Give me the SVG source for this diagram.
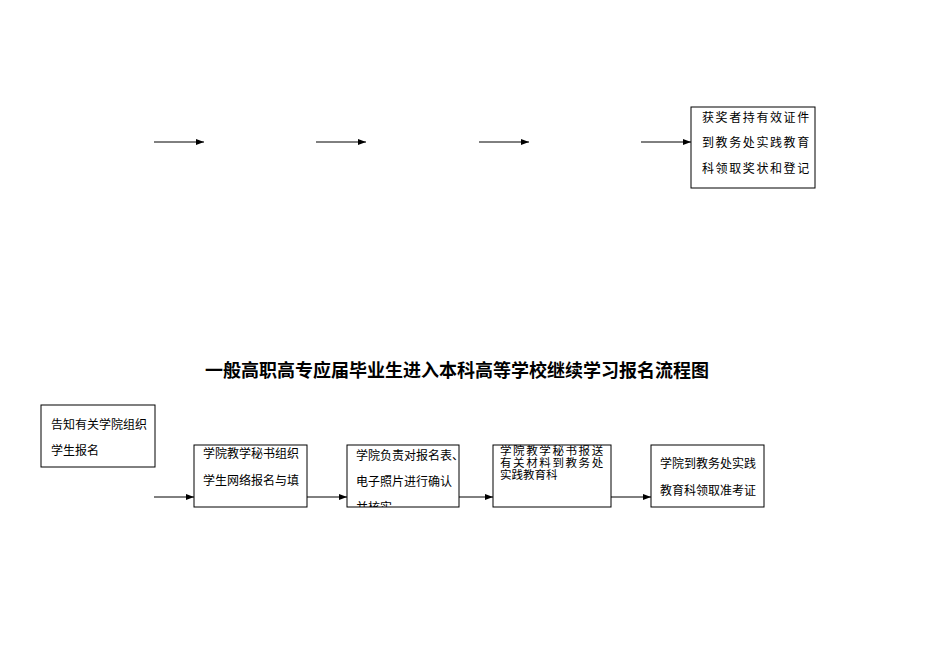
<svg xmlns="http://www.w3.org/2000/svg" width="950" height="672" viewBox="0 0 950 672">
<style>
.b{fill:#fff;stroke:#000;stroke-width:1}
.t{font-family:"Liberation Serif","Noto Sans CJK SC",serif;font-size:12px;fill:#000}
.s{font-family:"Liberation Serif","Noto Sans CJK SC",serif;font-size:11.5px;fill:#000}
.c line{stroke:#000;stroke-width:1;marker-end:url(#a)}
</style>
<defs>
<marker id="a" markerWidth="8" markerHeight="6" refX="8" refY="3" orient="auto" markerUnits="userSpaceOnUse"><path d="M0,0L8,3L0,6z" fill="#000"/></marker>
<clipPath id="cc"><rect x="347" y="445" width="112" height="62"/></clipPath>
</defs>
<rect width="950" height="672" fill="#fff"/>
<g class="c" id="connectors">
<line x1="154" y1="142" x2="204" y2="142"/>
<line x1="316" y1="142" x2="366" y2="142"/>
<line x1="479" y1="142" x2="529" y2="142"/>
<line x1="641" y1="142" x2="691" y2="142"/>
<line x1="154" y1="497" x2="194" y2="497"/>
<line x1="307" y1="497" x2="347" y2="497"/>
<line x1="459" y1="497" x2="493" y2="497"/>
<line x1="611" y1="497" x2="651" y2="497"/>
</g>
<g id="award">
<rect class="b" x="691" y="107" width="124" height="81"/>
<text class="t" x="702" y="122" letter-spacing="1.6">获奖者持有效证件</text>
<text class="t" x="702" y="147" letter-spacing="1.6">到教务处实践教育</text>
<text class="t" x="702" y="173" letter-spacing="1.6">科领取奖状和登记</text>
</g>
<text id="title" x="457" y="377" text-anchor="middle" font-family="'Liberation Serif','Noto Sans CJK SC',serif" font-size="18" font-weight="bold">一般高职高专应届毕业生进入本科高等学校继续学习报名流程图</text>
<g id="n1">
<rect class="b" x="41" y="405" width="114" height="62"/>
<text class="t" x="51" y="429">告知有关学院组织</text>
<text class="t" x="51" y="455">学生报名</text>
</g>
<g id="n2">
<rect class="b" x="194" y="445" width="113" height="62"/>
<text class="t" x="203" y="458">学院教学秘书组织</text>
<text class="t" x="203" y="485">学生网络报名与填</text>
</g>
<g id="n3">
<rect class="b" x="347" y="445" width="112" height="62"/>
<g clip-path="url(#cc)">
<text class="t" x="356" y="460">学院负责对报名表、</text>
<text class="t" x="356" y="486">电子照片进行确认</text>
<text class="t" x="356" y="512">并核实</text>
</g>
</g>
<g id="n4">
<rect class="b" x="493" y="445" width="118" height="62"/>
<text class="s" x="500" y="455" letter-spacing="1.6">学院教学秘书报送</text>
<text class="s" x="500" y="467" letter-spacing="1.6">有关材料到教务处</text>
<text class="s" x="500" y="479">实践教育科</text>
</g>
<g id="n5">
<rect class="b" x="651" y="445" width="113" height="62"/>
<text class="t" x="660" y="468">学院到教务处实践</text>
<text class="t" x="660" y="495">教育科领取准考证</text>
</g>
</svg>
